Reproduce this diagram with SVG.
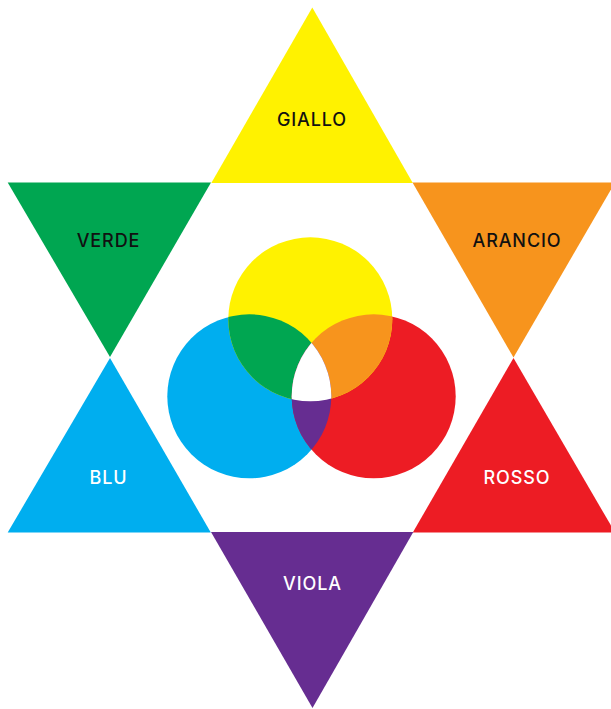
<svg xmlns="http://www.w3.org/2000/svg" width="611" height="709" viewBox="0 0 611 709">
<style>
.lbl{font-family:Inter,"Liberation Sans",Arial,sans-serif;font-size:18px;font-weight:500;letter-spacing:0.9px;text-anchor:middle}
.dk{fill:#111}
.lt{fill:#fff}
</style>
<defs>
<clipPath id="cY"><circle cx="310.3" cy="319.3" r="82"/></clipPath>
<clipPath id="cB"><circle cx="249.3" cy="396.3" r="82"/></clipPath>
<clipPath id="cR"><circle cx="373.7" cy="396.3" r="82"/></clipPath>
</defs>
<rect width="611" height="709" fill="#fff"/>
<g id="giallo"><polygon points="312.3,7.5 211.3,183 412.8,183" fill="#FFF200"/><text class="lbl dk" x="312" y="126">GIALLO</text></g>
<g id="verde"><polygon points="7.7,182.5 211,182.5 110,357" fill="#00A651"/><text class="lbl dk" x="108.5" y="247">VERDE</text></g>
<g id="arancio"><polygon points="412.5,182.5 615,182.5 513.5,357.5" fill="#F7941D"/><text class="lbl dk" x="517" y="247">ARANCIO</text></g>
<g id="blu"><polygon points="110,358 7.7,532.5 210.8,532.5" fill="#00AEEF"/><text class="lbl lt" x="108.5" y="483.5">BLU</text></g>
<g id="rosso"><polygon points="513.5,358 412.8,532.5 615,532.5" fill="#ED1C24"/><text class="lbl lt" x="517" y="483.5">ROSSO</text></g>
<g id="viola"><polygon points="211,532 413.3,532 312.5,708" fill="#662D91"/><text class="lbl lt" x="312.5" y="590">VIOLA</text></g>
<g id="cerchi">
<circle cx="249.3" cy="396.3" r="82" fill="#00AEEF"/>
<circle cx="373.7" cy="396.3" r="82" fill="#ED1C24"/>
<circle cx="310.3" cy="319.3" r="82" fill="#FFF200"/>
<g clip-path="url(#cY)"><circle cx="249.3" cy="396.3" r="82" fill="#00A651"/><circle cx="373.7" cy="396.3" r="82" fill="#F7941D"/></g>
<g clip-path="url(#cB)"><circle cx="373.7" cy="396.3" r="82" fill="#662D91"/></g>
<g clip-path="url(#cY)"><g clip-path="url(#cB)"><circle cx="373.7" cy="396.3" r="82" fill="#fff"/></g></g>
</g>
</svg>
